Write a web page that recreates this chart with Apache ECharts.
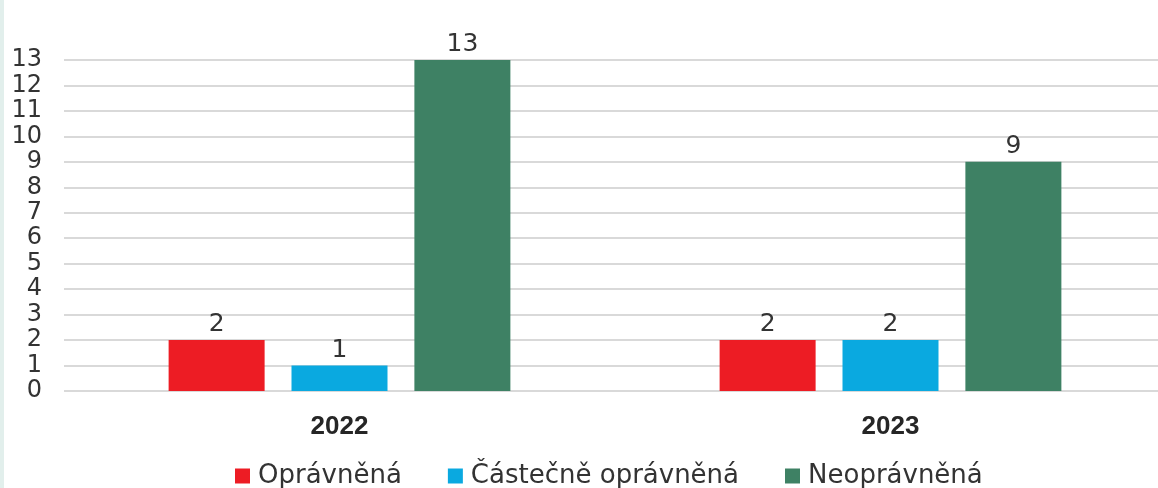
<!DOCTYPE html>
<html>
<head>
<meta charset="utf-8">
<script src="https://cdn.jsdelivr.net/npm/echarts@6/dist/echarts.min.js"></script>
<style>
  html, body { margin: 0; padding: 0; background: #fff; }
  #main { width: 1158px; height: 488px; }
</style>
</head>
<body>
<div id="main"></div>
<script>
// kategorie a hodnoty
const years = ['2022', '2023'];
const opravnena = [2, 2];
const castecne = [1, 2];
const neopravnena = [13, 9];
const yTicks = [0, 1, 2, 3, 4, 5, 6, 7, 8, 9, 10, 11, 12, 13];

const font = '"DejaVu Sans", "Noto Sans", sans-serif';
const textColor = '#333';

let myChart = echarts.init(document.getElementById('main'));

const labelStyle = {
  show: true,
  position: 'top',
  distance: 3,
  color: textColor,
  fontSize: 25,
  fontFamily: font
};

myChart.setOption({
  animation: false,
  graphic: [
    {
      type: 'rect',
      left: 0, top: 0,
      shape: { width: 4, height: 488 },
      style: { fill: '#e2efec' }
    }
  ],
  legend: {
    top: 458,
    left: 230,
    itemWidth: 15,
    itemHeight: 15,
    itemGap: 46,
    icon: 'rect',
    textStyle: { fontSize: 26, color: textColor, fontFamily: font, padding: [0, 0, 0, 3] },
    data: ['Oprávněná', 'Částečně oprávněná', 'Neoprávněná']
  },
  grid: {
    left: 64,
    right: -8,
    top: 60,
    bottom: 97,
    outerBoundsMode: 'none'
  },
  xAxis: {
    type: 'category',
    data: years,
    axisLine: { show: false },
    axisTick: { show: false },
    axisLabel: {
      margin: 23,
      fontSize: 26,
      fontWeight: 'bold',
      color: '#262626',
      fontFamily: '"Liberation Sans", Arial, sans-serif'
    }
  },
  yAxis: {
    type: 'value',
    min: 0,
    max: yTicks[yTicks.length - 1],
    interval: 1,
    axisLine: { show: false },
    axisTick: { show: false },
    axisLabel: {
      margin: 22,
      fontSize: 24,
      color: textColor,
      fontFamily: font
    },
    splitLine: { lineStyle: { color: '#d9d9d9', width: 2 } }
  },
  series: [
    {
      name: 'Oprávněná',
      type: 'bar',
      data: opravnena,
      barWidth: 96,
      barGap: '28%',
      itemStyle: { color: '#ed1c24' },
      label: labelStyle
    },
    {
      name: 'Částečně oprávněná',
      type: 'bar',
      data: castecne,
      barWidth: 96,
      barGap: '28%',
      itemStyle: { color: '#0aa9e0' },
      label: labelStyle
    },
    {
      name: 'Neoprávněná',
      type: 'bar',
      data: neopravnena,
      barWidth: 96,
      barGap: '28%',
      itemStyle: { color: '#3e8164' },
      label: labelStyle
    }
  ]
});
</script>
</body>
</html>
